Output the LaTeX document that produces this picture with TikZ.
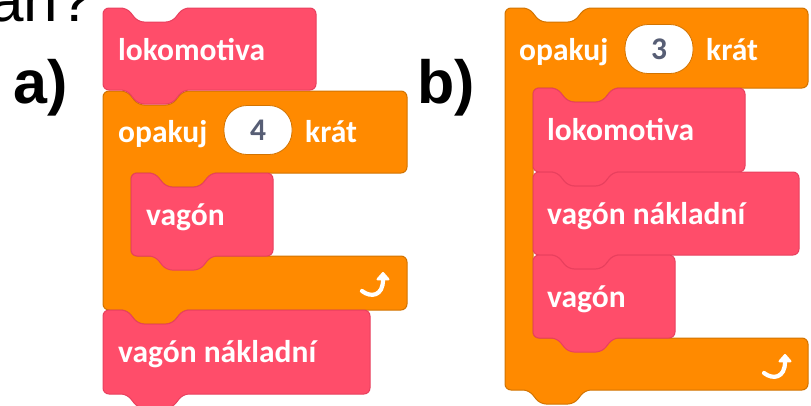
\documentclass[tikz,border=0pt]{standalone}
\usepackage{fontspec}
\setmainfont{Carlito}
\newfontfamily\arialfont{Liberation Sans}
\usetikzlibrary{arrows.meta}
\definecolor{pinkfill}{HTML}{FF4D6A}
\definecolor{pinkline}{HTML}{E8405E}
\definecolor{orfill}{HTML}{FF8A00}
\definecolor{orline}{HTML}{D27300}
\definecolor{numtxt}{HTML}{575E75}
\tikzset{
  pinkblk/.style={fill=pinkfill, draw=pinkline, line width=1pt, rounded corners=6pt},
  orblk/.style={fill=orfill, draw=orline, line width=1pt, rounded corners=6pt},
  lbl/.style={anchor=base west, inner sep=0pt, text=white, font=\fontsize{31.5}{32}\selectfont\bfseries},
  oval/.style={fill=white, draw=orline, line width=0.8pt, rounded corners=23pt, minimum width=68pt, minimum height=49pt, inner sep=0pt, text=numtxt, font=\fontsize{31.5}{32}\selectfont\bfseries},
  bigtxt/.style={anchor=base west, inner sep=0pt, text=black, font=\arialfont\fontsize{62}{62}\selectfont},
  retarrow/.style={draw=white, line width=4.2pt, line cap=round, -{Triangle[width=15pt,length=9pt,round]}}
}
% stack block: L T R B
\newcommand\stackblk[4]{%
  \draw[pinkblk] (#1,{(#2+#4)/2}) -- (#1,#2) -- (#1+24,#2) -- (#1+35,#2+14) -- (#1+69,#2+14) -- (#1+80,#2) -- (#3,#2) -- (#3,#4)
    -- (#1+80,#4) -- (#1+69,#4+14) -- (#1+35,#4+14) -- (#1+24,#4) -- (#1,#4) -- cycle;}
% C block: L T R A I B1 B
\newcommand\cblk[7]{%
  \draw[orblk] (#1,{(#2+#4)/2}) -- (#1,#2) -- (#1+24,#2) -- (#1+35,#2+14) -- (#1+69,#2+14) -- (#1+80,#2) -- (#3,#2) -- (#3,#4)
    -- (#5+80,#4) -- (#5+69,#4+14) -- (#5+35,#4+14) -- (#5+24,#4) -- (#5,#4) -- (#5,#6) -- (#3,#6) -- (#3,#7)
    -- (#1+80,#7) -- (#1+69,#7+14) -- (#1+35,#7+14) -- (#1+24,#7) -- (#1,#7) -- cycle;}
\begin{document}
\begin{tikzpicture}[x=1pt,y=-1pt]
\useasboundingbox (0,0) rectangle (811,405);
% top text
\node[bigtxt] (q) at (-11,21) {an?};
\node[bigtxt, font=\arialfont\bfseries\fontsize{61}{61}\selectfont] (la) at (13,103) {a)};
\node[bigtxt, font=\arialfont\bfseries\fontsize{61}{61}\selectfont] (lb) at (417,103) {b)};

% ---- part a ----
\cblk{103}{91}{407}{173}{131}{256}{310}
\stackblk{103}{8}{316}{90}
\stackblk{131}{173}{273}{256}
\stackblk{103}{310}{370}{394}
\node[lbl] (a1) at (118,60) {lokomotiva};
\node[lbl] (a2) at (118,142) {opakuj};
\node[oval] (a3) at (258,130) {4};
\node[lbl] (a4) at (305,142) {krát};
\node[lbl] (a5) at (146,225) {vagón};
\node[lbl] (a6) at (118,362) {vagón nákladní};
\coordinate (ars) at (362,291);
\coordinate (are) at (383,272);
\draw[retarrow] (ars) .. controls (371,298) and (383,296) .. (are);

% ---- part b ----
\cblk{505}{8}{808}{88}{533}{338}{390}
\stackblk{533}{88}{745}{172}
\stackblk{533}{172}{799}{255}
\stackblk{533}{255}{675}{338}
\node[lbl] (b1) at (519,60) {opakuj};
\node[oval] (b2) at (659,49) {3};
\node[lbl] (b3) at (706,60) {krát};
\node[lbl] (b4) at (547,140) {lokomotiva};
\node[lbl] (b5) at (547,224) {vagón nákladní};
\node[lbl] (b6) at (547,307) {vagón};
\coordinate (brs) at (764,373);
\coordinate (bre) at (785,354);
\draw[retarrow] (brs) .. controls (773,380) and (785,378) .. (bre);
\end{tikzpicture}
\end{document}
